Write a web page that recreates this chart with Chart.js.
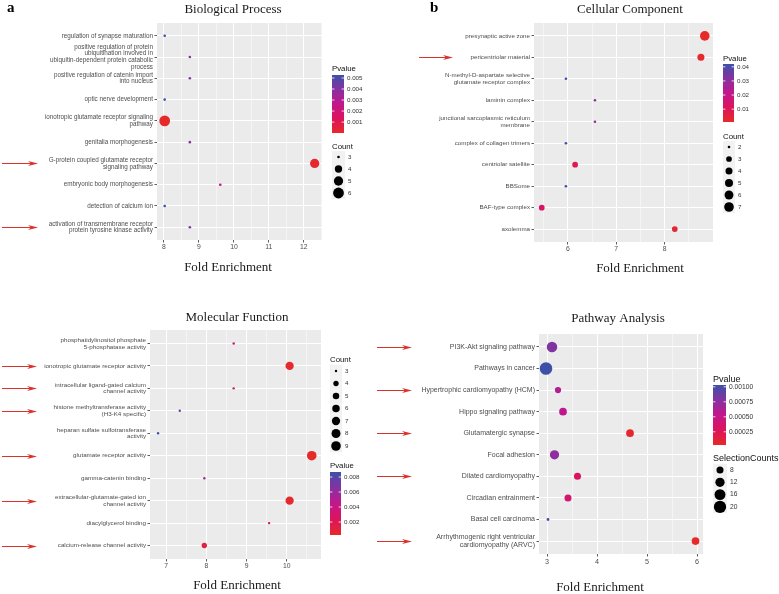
<!DOCTYPE html>
<html>
<head>
<meta charset="utf-8">
<script src="https://cdn.jsdelivr.net/npm/chart.js@4.4.1/dist/chart.umd.min.js"></script>
<style>
  html, body { margin: 0; padding: 0; background: #fff; }
  #fig { position: relative; width: 779px; height: 594px; }
  #fig canvas { position: absolute; left: 0; top: 0; }
</style>
</head>
<body>
<div id="fig">
  <canvas id="bp" width="779" height="594"></canvas>
  <canvas id="cc" width="779" height="594"></canvas>
  <canvas id="mf" width="779" height="594"></canvas>
  <canvas id="kegg" width="779" height="594"></canvas>
</div>
<script>
// ---- a: Biological Process (rows top to bottom)
const bpTerms = [
  'regulation of synapse maturation',
  'positive regulation of protein\nubiquitination involved in\nubiquitin-dependent protein catabolic\nprocess',
  'positive regulation of catenin import\ninto nucleus',
  'optic nerve development',
  'ionotropic glutamate receptor signaling\npathway',
  'genitalia morphogenesis',
  'G-protein coupled glutamate receptor\nsignaling pathway',
  'embryonic body morphogenesis',
  'detection of calcium ion',
  'activation of transmembrane receptor\nprotein tyrosine kinase activity'
];
const bpFold   = [8.02, 8.74, 8.74, 8.02, 8.02, 8.74, 12.31, 9.61, 8.02, 8.74];
const bpCount  = [3, 3, 3, 3, 6, 3, 5, 3, 3, 3];
const bpPvalue = [0.00527, 0.0040, 0.0040, 0.00527, 0.00001, 0.0040, 0.0001, 0.0024, 0.00527, 0.0040];
const bpXTicks = [8, 9, 10, 11, 12];
const bpPLabels = ['0.001', '0.002', '0.003', '0.004', '0.005'];
const bpCountLabels = [3, 4, 5, 6];
const bpArrows = [6, 9];

// ---- b: Cellular Component
const ccTerms = [
  'presynaptic active zone',
  'pericentriolar material',
  'N-methyl-D-aspartate selective\nglutamate receptor complex',
  'laminin complex',
  'junctional sarcoplasmic reticulum\nmembrane',
  'complex of collagen trimers',
  'centriolar satellite',
  'BBSome',
  'BAF-type complex',
  'axolemma'
];
const ccFold   = [8.83, 8.75, 5.96, 6.56, 6.56, 5.96, 6.15, 5.96, 5.46, 8.21];
const ccCount  = [7, 4, 2, 2, 2, 2, 3, 2, 3, 3];
const ccPvalue = [0.0009, 0.0015, 0.042, 0.030, 0.030, 0.042, 0.009, 0.042, 0.013, 0.003];
const ccXTicks = [6, 7, 8];
const ccPLabels = ['0.01', '0.02', '0.03', '0.04'];
const ccCountLabels = [2, 3, 4, 5, 6, 7];
const ccArrows = [1];

// ---- c: Molecular Function
const mfTerms = [
  'phosphatidylinositol phosphate\n5-phosphatase activity',
  'ionotropic glutamate receptor activity',
  'intracellular ligand-gated calcium\nchannel activity',
  'histone methyltransferase activity\n(H3-K4 specific)',
  'heparan sulfate sulfotransferase\nactivity',
  'glutamate receptor activity',
  'gamma-catenin binding',
  'extracellular-glutamate-gated ion\nchannel activity',
  'diacylglycerol binding',
  'calcium-release channel activity'
];
const mfFold   = [8.68, 10.07, 8.68, 7.34, 6.80, 10.62, 7.95, 10.07, 9.56, 7.95];
const mfCount  = [3, 7, 3, 3, 3, 9, 3, 7, 3, 4];
const mfPvalue = [0.0035, 0.0004, 0.0035, 0.0072, 0.00867, 0.00027, 0.0058, 0.0004, 0.0030, 0.0012];
const mfXTicks = [7, 8, 9, 10];
const mfPLabels = ['0.002', '0.004', '0.006', '0.008'];
const mfCountLabels = [3, 4, 5, 6, 7, 8, 9];
const mfArrows = [1, 2, 3, 5, 7, 9];

// ---- d: Pathway Analysis
const keggTerms = [
  'PI3K-Akt signaling pathway',
  'Pathways in cancer',
  'Hypertrophic cardiomyopathy (HCM)',
  'Hippo signaling pathway',
  'Glutamatergic synapse',
  'Focal adhesion',
  'Dilated cardiomyopathy',
  'Circadian entrainment',
  'Basal cell carcinoma',
  'Arrhythmogenic right ventricular\ncardiomyopathy (ARVC)'
];
const keggFold   = [3.10, 2.98, 3.22, 3.32, 4.66, 3.15, 3.61, 3.42, 3.02, 5.97];
const keggCount  = [15, 21, 7, 9, 9, 12, 8, 8, 5, 9];
const keggPvalue = [0.0008, 0.00103, 0.0006, 0.00055, 0.00005, 0.00075, 0.0003, 0.00038, 0.00095, 0.00003];
const keggXTicks = [3, 4, 5, 6];
const keggPLabels = ['0.00025', '0.00050', '0.00075', '0.00100'];
const keggCountLabels = [8, 12, 16, 20];
const keggArrows = [0, 2, 4, 6, 9];

// ---- shared styling
const SANS = '"Liberation Sans", Arial, sans-serif';
const SERIF = '"Liberation Serif", "Times New Roman", serif';
const pStops = ['#E62A2A', '#DC145C', '#C2178C', '#8632A0', '#3D50A8'];

function hexRgb(h) {
  return [1, 3, 5].map(i => parseInt(h.slice(i, i + 2), 16));
}
function colorAt(t) {
  t = Math.max(0, Math.min(1, t)) * (pStops.length - 1);
  const i = Math.min(Math.floor(t), pStops.length - 2), f = t - i;
  const a = hexRgb(pStops[i]), b = hexRgb(pStops[i + 1]);
  const c = a.map((v, k) => Math.round(v + (b[k] - v) * f));
  return 'rgb(' + c.join(',') + ')';
}

function drawArrow(ctx, x1, x2, y) {
  ctx.strokeStyle = '#D9342B';
  ctx.fillStyle = '#D9342B';
  ctx.lineWidth = 1;
  ctx.beginPath();
  ctx.moveTo(x1, y);
  ctx.lineTo(x2 - 6, y);
  ctx.stroke();
  ctx.beginPath();
  ctx.moveTo(x2, y);
  ctx.lineTo(x2 - 10, y - 2.4);
  ctx.lineTo(x2 - 7, y);
  ctx.lineTo(x2 - 10, y + 2.4);
  ctx.closePath();
  ctx.fill();
}

function panel(id, o) {
  const n = o.terms.length;
  const cmin = Math.min(...o.count), cmax = Math.max(...o.count);
  const pmin = Math.min(...o.pvalue), pmax = Math.max(...o.pvalue);
  const rad = v => o.rmin + Math.sqrt((v - cmin) / (cmax - cmin)) * (o.rmax - o.rmin);
  const col = p => colorAt((p - pmin) / (pmax - pmin));

  const points = o.terms.map((t, i) => ({ x: o.fold[i], y: n - i, r: rad(o.count[i]) }));
  const xs = [];
  o.xTicks.forEach(m => [m - 0.5, m, m + 0.5].forEach(v => {
    if (v > o.xMin && v < o.xMax && !xs.includes(v)) xs.push(v);
  }));
  xs.sort((a, b) => a - b);
  const ys = o.terms.map((t, i) => i + 1);
  const isMajor = c => c.tick && Number.isInteger(c.tick.value);
  const L = o.lg;

  const deco = {
    id: 'deco' + id,
    beforeDraw(chart) {
      const a = chart.chartArea, ctx = chart.ctx;
      ctx.save();
      ctx.fillStyle = '#EBEBEB';
      ctx.fillRect(a.left, a.top, a.right - a.left, a.bottom - a.top);
      ctx.restore();
    },
    afterDraw(chart) {
      const ctx = chart.ctx;
      ctx.save();
      // titles
      ctx.fillStyle = '#1a1a1a';
      ctx.textAlign = 'center';
      ctx.textBaseline = 'alphabetic';
      ctx.font = '13px ' + SERIF;
      ctx.fillText(o.title, o.titleX, o.titleY);
      ctx.fillText('Fold Enrichment', o.feX, o.feY);
      if (o.letter) {
        ctx.fillStyle = '#000';
        ctx.textAlign = 'left';
        ctx.font = 'bold 15px ' + SERIF;
        ctx.fillText(o.letter, o.letterX, o.letterY);
      }
      // arrows
      o.arrows.forEach(i => {
        const y = Math.round(chart.scales.y.getPixelForValue(n - i)) + 0.5;
        drawArrow(ctx, o.arrowX[0], o.arrowX[1], y);
      });
      // colour bar legend
      ctx.textAlign = 'left';
      ctx.textBaseline = 'alphabetic';
      ctx.fillStyle = '#111';
      ctx.font = L.titleFont + 'px ' + SANS;
      ctx.fillText('Pvalue', L.x, L.pTitleY);
      for (let y = L.barTop; y < L.barBot; y++) {
        ctx.fillStyle = colorAt((L.barBot - y - 0.5) / (L.barBot - L.barTop));
        ctx.fillRect(L.x, y, L.barW, 1);
      }
      ctx.font = L.labelFont + 'px ' + SANS;
      ctx.textBaseline = 'middle';
      o.pLabels.forEach(s => {
        const v = parseFloat(s);
        const yy = L.barBot - (v - pmin) / (pmax - pmin) * (L.barBot - L.barTop);
        ctx.strokeStyle = '#fff';
        ctx.lineWidth = 0.8;
        ctx.beginPath();
        ctx.moveTo(L.x, yy); ctx.lineTo(L.x + 2.4, yy);
        ctx.moveTo(L.x + L.barW - 2.4, yy); ctx.lineTo(L.x + L.barW, yy);
        ctx.stroke();
        ctx.fillStyle = '#333';
        ctx.fillText(s, L.x + L.barW + 3, yy);
      });
      // size legend
      ctx.textBaseline = 'alphabetic';
      ctx.fillStyle = '#111';
      ctx.font = L.titleFont + 'px ' + SANS;
      ctx.fillText(o.sizeTitle, L.x, L.sTitleY);
      ctx.font = L.labelFont + 'px ' + SANS;
      ctx.textBaseline = 'middle';
      o.countLabels.forEach((v, k) => {
        const cy = L.keyY0 + k * L.keyStep;
        ctx.fillStyle = '#F2F2F2';
        ctx.fillRect(L.x, cy - L.keyStep / 2, L.keyW, L.keyStep);
        ctx.fillStyle = '#000';
        ctx.beginPath();
        ctx.arc(L.x + L.keyW / 2, cy, rad(v), 0, Math.PI * 2);
        ctx.fill();
        ctx.fillStyle = '#333';
        ctx.fillText(String(v), L.x + L.keyW + 3, cy);
      });
      ctx.restore();
    }
  };

  return new Chart(document.getElementById(id), {
    type: 'bubble',
    data: {
      datasets: [{
        data: points,
        backgroundColor: o.pvalue.map(col),
        borderWidth: 0,
        hoverBorderWidth: 0
      }]
    },
    options: {
      responsive: false,
      animation: false,
      events: [],
      layout: { padding: { left: o.left - 150, top: o.top, right: 779 - o.right, bottom: 594 - o.bottom - 14 } },
      plugins: { legend: { display: false }, tooltip: { enabled: false } },
      scales: {
        x: {
          type: 'linear', min: o.xMin, max: o.xMax,
          afterBuildTicks: s => { s.ticks = xs.map(v => ({ value: v })); },
          afterFit: s => { s.height = 14; },
          border: { display: false },
          grid: {
            color: '#fff',
            lineWidth: c => isMajor(c) ? 1 : 0.5,
            tickLength: 2.5,
            tickWidth: 0.8,
            tickColor: c => isMajor(c) ? '#333' : 'rgba(0,0,0,0)'
          },
          ticks: {
            autoSkip: false, maxRotation: 0, padding: 1, color: '#4D4D4D',
            font: { family: SANS, size: o.tickFont },
            callback: v => Number.isInteger(v) ? String(v) : ''
          }
        },
        y: {
          type: 'linear', min: 0.4, max: n + 0.6,
          afterBuildTicks: s => { s.ticks = ys.map(v => ({ value: v })); },
          afterFit: s => { s.width = 150; },
          border: { display: false },
          grid: { color: '#fff', lineWidth: 1, tickLength: 2.5, tickWidth: 0.8, tickColor: '#333' },
          ticks: {
            autoSkip: false, padding: 1.5, color: '#4D4D4D',
            font: { family: SANS, size: o.labelFont, lineHeight: 1.08 },
            callback: v => o.terms[n - v].split('\n')
          }
        }
      }
    },
    plugins: [deco]
  });
}

panel('bp', {
  terms: bpTerms, fold: bpFold, count: bpCount, pvalue: bpPvalue,
  xTicks: bpXTicks, pLabels: bpPLabels, countLabels: bpCountLabels, arrows: bpArrows,
  left: 157, right: 322, top: 23, bottom: 240, xMin: 7.8, xMax: 12.52,
  rmin: 1.3, rmax: 5.4, labelFont: 6.3, tickFont: 6.8,
  title: 'Biological Process', titleX: 233, titleY: 13, feX: 228, feY: 271,
  letter: 'a', letterX: 7, letterY: 12, arrowX: [2, 38], sizeTitle: 'Count',
  lg: { x: 332, barW: 12, titleFont: 7.8, labelFont: 6.2, pTitleY: 71, barTop: 75, barBot: 133,
        sTitleY: 149, keyY0: 157, keyStep: 12, keyW: 13 }
});

panel('cc', {
  terms: ccTerms, fold: ccFold, count: ccCount, pvalue: ccPvalue,
  xTicks: ccXTicks, pLabels: ccPLabels, countLabels: ccCountLabels, arrows: ccArrows,
  left: 534, right: 713, top: 23, bottom: 242, xMin: 5.3, xMax: 9.0,
  rmin: 1.3, rmax: 4.8, labelFont: 6.2, tickFont: 6.8,
  title: 'Cellular Component', titleX: 630, titleY: 13, feX: 640, feY: 272,
  letter: 'b', letterX: 430, letterY: 12, arrowX: [419, 453], sizeTitle: 'Count',
  lg: { x: 723, barW: 11, titleFont: 7.8, labelFont: 6.2, pTitleY: 61, barTop: 64, barBot: 122,
        sTitleY: 139, keyY0: 147, keyStep: 12, keyW: 12 }
});

panel('mf', {
  terms: mfTerms, fold: mfFold, count: mfCount, pvalue: mfPvalue,
  xTicks: mfXTicks, pLabels: mfPLabels, countLabels: mfCountLabels, arrows: mfArrows,
  left: 150, right: 321, top: 330, bottom: 559, xMin: 6.6, xMax: 10.85,
  rmin: 1.2, rmax: 4.8, labelFont: 6.25, tickFont: 6.8,
  title: 'Molecular Function', titleX: 237, titleY: 321, feX: 237, feY: 589,
  letter: '', arrowX: [2, 37], sizeTitle: 'Count',
  lg: { x: 330, barW: 11, titleFont: 7.8, labelFont: 6.2, pTitleY: 468, barTop: 472, barBot: 535,
        sTitleY: 362, keyY0: 371, keyStep: 12.5, keyW: 12 }
});

panel('kegg', {
  terms: keggTerms, fold: keggFold, count: keggCount, pvalue: keggPvalue,
  xTicks: keggXTicks, pLabels: keggPLabels, countLabels: keggCountLabels, arrows: keggArrows,
  left: 539, right: 703, top: 334, bottom: 554, xMin: 2.84, xMax: 6.12,
  rmin: 1.4, rmax: 6.3, labelFont: 7, tickFont: 7.2,
  title: 'Pathway Analysis', titleX: 618, titleY: 322, feX: 600, feY: 591,
  letter: '', arrowX: [377, 412], sizeTitle: 'SelectionCounts',
  lg: { x: 713, barW: 13, titleFont: 9, labelFont: 6.7, pTitleY: 382, barTop: 385, barBot: 445,
        sTitleY: 461, keyY0: 470, keyStep: 12.3, keyW: 14 }
});
</script>
</body>
</html>
